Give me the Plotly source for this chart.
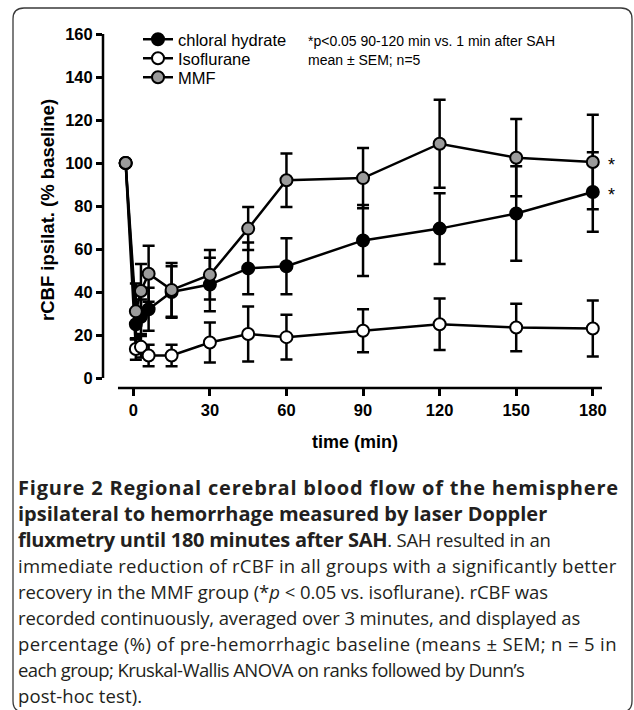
import plotly.graph_objects as go

# ---------------- data ----------------
times = [-3, 1, 3, 6, 15, 30, 45, 60, 90, 120, 150, 180]
chloral = [100, 25, 28.5, 32, 40, 43.5, 51, 52, 64, 69.5, 76.5, 86.5]
chloral_sem = [0, 7, 8, 10, 12, 12.5, 12, 13, 16.5, 16.5, 22, 18.5]
iso = [100, 13.5, 14.5, 10.5, 10.5, 16.5, 20.5, 19, 22, 25, 23.5, 23]
iso_sem = [0, 5, 5, 5, 5, 9.3, 12.8, 10.4, 10, 12, 11, 13]
mmf = [100, 31, 40.5, 48.5, 41, 48, 69.5, 92, 93, 109, 102.5, 100.5]
mmf_sem = [0, 13, 12.5, 13, 12.5, 11.5, 10, 12.5, 14, 20.5, 18, 22]

x_ticks = [0, 30, 60, 90, 120, 150, 180]
y_ticks = [0, 20, 40, 60, 80, 100, 120, 140, 160]

note_lines = ["*p<0.05 90-120 min vs. 1 min after SAH", "mean \u00b1 SEM; n=5"]
x_title = "time (min)"
y_title = "rCBF ipsilat. (% baseline)"

BOLD = '<b><span style="font-size:20px">{}</span></b>'
caption_lines = [
    BOLD.format("Figure 2 Regional cerebral blood flow of the hemisphere"),
    BOLD.format("ipsilateral to hemorrhage measured by laser Doppler"),
    BOLD.format("fluxmetry until 180 minutes after SAH") + ". SAH resulted in an",
    "immediate reduction of rCBF in all groups with a significantly better",
    "recovery in the MMF group (*<i>p</i> &lt; 0.05 vs. isoflurane). rCBF was",
    "recorded continuously, averaged over 3 minutes, and displayed as",
    "percentage (%) of pre-hemorrhagic baseline (means \u00b1 SEM; n = 5 in",
    "each group; Kruskal-Wallis ANOVA on ranks followed by Dunn\u2019s",
    "post-hoc test).",
]
# per-line letter spacing (px) to mimic the original typesetting widths
caption_spacing = [0.8, 0.0, -0.25, 0.28, -0.05, -0.12, 0.36, -0.6, 0.1]

# ---------------- layout geometry (pixels) ----------------
W, H = 634, 710
L, R, T, B = 103, 603, 30, 388
PW, PH = R - L, B - T


def px(xp):
    return (xp - L) / PW


def py(yp):
    return (B - yp) / PH


FONT = "Liberation Sans, Arial, Helvetica, sans-serif"
CAP_FONT = "Open Sans, Noto Sans, sans-serif"

fig = go.Figure()

styles = {
    "Isoflurane": ("white", iso, iso_sem, "legend2"),
    "chloral hydrate": ("black", chloral, chloral_sem, "legend"),
    "MMF": ("#9b9b9b", mmf, mmf_sem, "legend3"),
}
for name in ["Isoflurane", "chloral hydrate", "MMF"]:
    color, vals, sem, leg = styles[name]
    fig.add_trace(go.Scatter(
        x=times, y=vals, name=name, mode="lines+markers",
        line=dict(color="black", width=2.5),
        marker=dict(size=12, color=color, line=dict(color="black", width=2)),
        error_y=dict(type="data", array=sem, visible=True, color="black",
                     thickness=2.5, width=6),
        legend=leg, hoverinfo="skip",
    ))

# detached axis lines
fig.add_shape(type="line", xref="paper", yref="y", x0=0, x1=0, y0=0, y1=160,
              line=dict(color="black", width=2.5))
fig.add_shape(type="line", xref="x", yref="paper", x0=-6, x1=183.6, y0=0, y1=0,
              line=dict(color="black", width=2.5))

# rounded border
x0, x1, y0, y1, r = 13, 632, 8, 712, 11
rx, ry = r / PW, r / PH
path = (f"M {px(x0)+rx},{py(y0)} L {px(x1)-rx},{py(y0)} "
        f"Q {px(x1)},{py(y0)} {px(x1)},{py(y0)-ry} "
        f"L {px(x1)},{py(y1)+ry} Q {px(x1)},{py(y1)} {px(x1)-rx},{py(y1)} "
        f"L {px(x0)+rx},{py(y1)} Q {px(x0)},{py(y1)} {px(x0)},{py(y1)+ry} "
        f"L {px(x0)},{py(y0)-ry} Q {px(x0)},{py(y0)} {px(x0)+rx},{py(y0)} Z")
fig.add_shape(type="path", xref="paper", yref="paper", path=path,
              line=dict(color="#3a3a3a", width=1.3), layer="below")

# note text
for i, t in enumerate(note_lines):
    fig.add_annotation(text=t, xref="paper", yref="paper", x=px(306), y=py(41 + 19 * i),
                       xanchor="left", yanchor="middle", showarrow=False,
                       font=dict(family=FONT, size=14, color="black"))

# significance stars
for vals in (mmf, chloral):
    fig.add_annotation(text="*", x=times[-1], y=vals[-1], xref="x", yref="y",
                       xshift=19, yshift=-3, showarrow=False,
                       font=dict(family=FONT, size=18, color="black"))

# axis titles
fig.add_annotation(text=f"<b>{x_title}</b>", xref="paper", yref="paper",
                   x=px(355), y=py(442), showarrow=False, yanchor="middle",
                   font=dict(family=FONT, size=18, color="black"))
fig.add_annotation(text=f"<b>{y_title}</b>", xref="paper", yref="paper",
                   x=px(47), y=py(210), showarrow=False, textangle=-90,
                   xanchor="center", yanchor="middle",
                   font=dict(family=FONT, size=18.5, color="black"))

# caption
for i, t in enumerate(caption_lines):
    styled = f'<span style="letter-spacing:{caption_spacing[i]}px">{t}</span>'
    fig.add_annotation(text=styled, xref="paper", yref="paper", x=px(16), y=py(487 + 26.0 * i),
                       xanchor="left", yanchor="middle", showarrow=False,
                       font=dict(family=CAP_FONT, size=18.5, color="#231f20"))

leg_common = dict(xanchor="left", yanchor="top", bgcolor="rgba(0,0,0,0)",
                  font=dict(family=FONT, size=16.5, color="black"))
fig.update_layout(
    width=W, height=H,
    margin=dict(l=L, r=W - R, t=T, b=H - B, autoexpand=False),
    paper_bgcolor="white", plot_bgcolor="white",
    showlegend=True, hovermode=False,
    legend=dict(x=px(138), y=py(40 - 18), **leg_common),
    legend2=dict(x=px(138), y=py(59 - 18), **leg_common),
    legend3=dict(x=px(138), y=py(78 - 18), **leg_common),
    xaxis=dict(range=[-11.87, 184.0], showgrid=False, zeroline=False, showline=False,
               tickvals=x_ticks, ticks="outside", ticklen=7, tickwidth=2.5,
               tickcolor="black",
               tickfont=dict(family=FONT, size=16.5, color="black", weight="bold")),
    yaxis=dict(range=[-4.65, 161.9], showgrid=False, zeroline=False, showline=False,
               tickvals=y_ticks, ticks="outside", ticklen=6, tickwidth=2.5,
               tickcolor="black",
               tickfont=dict(family=FONT, size=16.5, color="black", weight="bold")),
)

fig.write_html("out.html", config={"displayModeBar": False},
               post_script="document.body.style.margin='0px';")
